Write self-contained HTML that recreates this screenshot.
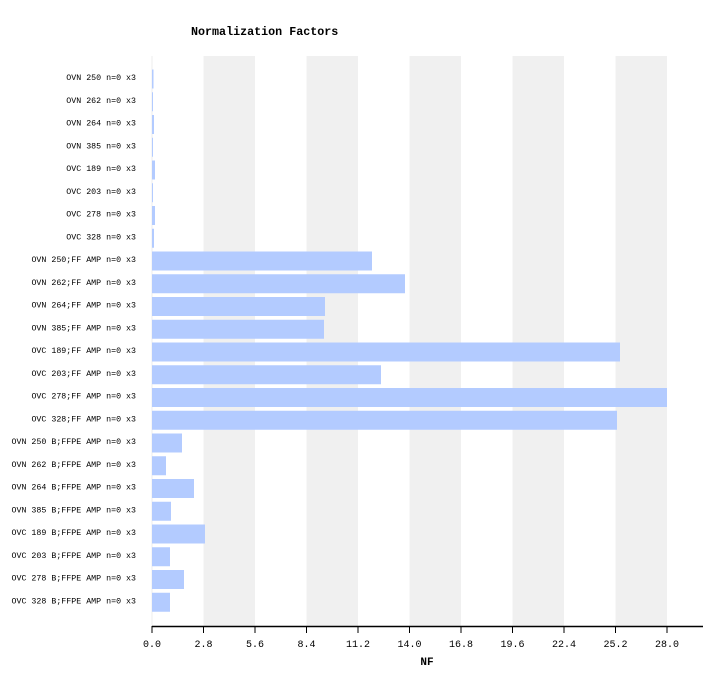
<!DOCTYPE html>
<html><head><style>
body{margin:0;background:#fff;}
svg text{font-family:"Liberation Mono","DejaVu Sans Mono",monospace;}
</style></head><body>
<svg width="721" height="686" xmlns="http://www.w3.org/2000/svg">
<rect width="721" height="686" fill="#fff"/>
<text x="191" y="35" font-size="11.7" font-weight="bold" fill="#000">Normalization Factors</text>
<g fill="#f0f0f0">
<rect x="203.5" y="56" width="51.5" height="570"/>
<rect x="306.5" y="56" width="51.5" height="570"/>
<rect x="409.5" y="56" width="51.5" height="570"/>
<rect x="512.5" y="56" width="51.5" height="570"/>
<rect x="615.5" y="56" width="51.5" height="570"/>
</g>
<line x1="152" y1="56" x2="152" y2="626" stroke="#eee"/>
<g fill="#b3cbff" id="bars"></g>
<g font-size="8.3" text-anchor="end" fill="#000" id="labels"></g>
<line x1="152" y1="626.5" x2="703" y2="626.5" stroke="#000" stroke-width="1.5"/>
<g id="ticks" stroke="#000"></g>
<g id="tl" font-size="10" text-anchor="middle" fill="#000"></g>
<text x="427" y="665" font-size="11" font-weight="bold" text-anchor="middle">NF</text>
</svg>
<script>
var labels=["OVN 250 n=0 x3","OVN 262 n=0 x3","OVN 264 n=0 x3","OVN 385 n=0 x3","OVC 189 n=0 x3","OVC 203 n=0 x3","OVC 278 n=0 x3","OVC 328 n=0 x3","OVN 250;FF AMP n=0 x3","OVN 262;FF AMP n=0 x3","OVN 264;FF AMP n=0 x3","OVN 385;FF AMP n=0 x3","OVC 189;FF AMP n=0 x3","OVC 203;FF AMP n=0 x3","OVC 278;FF AMP n=0 x3","OVC 328;FF AMP n=0 x3","OVN 250 B;FFPE AMP n=0 x3","OVN 262 B;FFPE AMP n=0 x3","OVN 264 B;FFPE AMP n=0 x3","OVN 385 B;FFPE AMP n=0 x3","OVC 189 B;FFPE AMP n=0 x3","OVC 203 B;FFPE AMP n=0 x3","OVC 278 B;FFPE AMP n=0 x3","OVC 328 B;FFPE AMP n=0 x3"];
var ends=[153.5,153,154,153,155,153,155,154,372,405,325,324,620,381,667,617,182,166,194,171,205,170,184,170];
var ns="http://www.w3.org/2000/svg";
var b=document.getElementById("bars"),l=document.getElementById("labels");
for(var i=0;i<24;i++){var c=79+i*22.75;
var r=document.createElementNS(ns,"rect");r.setAttribute("x",152);r.setAttribute("y",c-9.5);r.setAttribute("width",ends[i]-152);r.setAttribute("height",19);b.appendChild(r);
var t=document.createElementNS(ns,"text");t.setAttribute("x",136);t.setAttribute("y",c+1);t.textContent=labels[i];l.appendChild(t);}
var tk=document.getElementById("ticks"),tl=document.getElementById("tl");
for(var j=0;j<=10;j++){var x=152+j*51.5;
var ln=document.createElementNS(ns,"line");ln.setAttribute("x1",x);ln.setAttribute("x2",x);ln.setAttribute("y1",626);ln.setAttribute("y2",633);tk.appendChild(ln);
var t2=document.createElementNS(ns,"text");t2.setAttribute("x",x);t2.setAttribute("y",647);t2.textContent=(j*2.8).toFixed(1);tl.appendChild(t2);}
</script>
</body></html>
